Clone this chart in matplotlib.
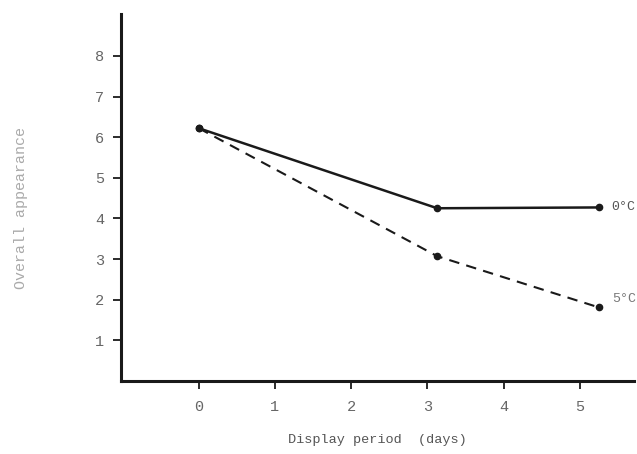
import matplotlib
matplotlib.use('Agg')
import matplotlib.pyplot as plt

# Display period (days) and overall appearance score
dias_0 = [0, 3.13, 5.25]
ocjena_0 = [6.22, 4.25, 4.27]
dias_5 = [0, 3.13, 5.25]
ocjena_5 = [6.22, 3.07, 1.81]
oznake = ['0°C', '5°C']

plt.rcParams['font.family'] = ['Liberation Mono', 'DejaVu Sans Mono']

fig = plt.figure(figsize=(6.37, 4.54), dpi=100)
ax = fig.add_axes([0.19, 0.161, 0.805, 0.808])

ax.plot(dias_0, ocjena_0, color='#1a1a1a', lw=1.8, marker='o', ms=4.5)
ax.plot(dias_5, ocjena_5, color='#1a1a1a', lw=1.5, ls=(0, (5, 3.5)), marker='o', ms=4.5)

ax.text(dias_0[-1] + 0.17, ocjena_0[-1], oznake[0], va='center', ha='left', fontsize=9.5, color='#555')
ax.text(dias_5[-1] + 0.17, ocjena_5[-1] + 0.2, oznake[1], va='center', ha='left', fontsize=9.5, color='#777')

ax.set_xlim(-1.02, 5.71)
ax.set_ylim(0, 9.03)
ax.set_xticks(range(6))
ax.set_yticks(range(1, 9))

for s in ['top', 'right']:
    ax.spines[s].set_visible(False)
for s in ['left', 'bottom']:
    ax.spines[s].set_linewidth(2.2)
    ax.spines[s].set_color('#1a1a1a')

ax.tick_params(axis='both', direction='out', length=6, width=1.3, color='#1a1a1a',
               labelsize=11, labelcolor='#666')
ax.tick_params(axis='x', pad=8)
ax.tick_params(axis='y', pad=6)

ax.set_xlabel('Display period  (days)', fontsize=9.7, color='#555', labelpad=14)
fig.text(0.033, 0.542, 'Overall appearance', rotation=90, va='center', ha='center',
         fontsize=10.8, color='#aaa')

fig.savefig('out.png', dpi=100)
